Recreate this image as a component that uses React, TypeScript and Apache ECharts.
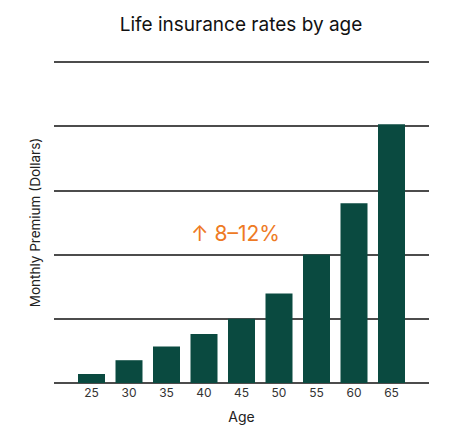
import React, { useEffect, useRef } from "react";
import * as echarts from "echarts";

const ages = [25, 30, 35, 40, 45, 50, 55, 60, 65];
const premiums = [2.8, 7.1, 11.4, 15.3, 20, 27.9, 40, 56, 80.6];
const annotationText = "↑ 8–12%";
const titleText = "Life insurance rates by age";
const yName = "Monthly Premium (Dollars)";
const xName = "Age";

export default function App() {
  const ref = useRef<HTMLDivElement>(null);
  useEffect(() => {
    if (!ref.current) return;
    const chart = echarts.init(ref.current, null, { renderer: "svg" });
    const font = "Inter, 'Noto Sans', sans-serif";
    chart.setOption({
      animation: false,
      textStyle: { fontFamily: font },
      title: {
        text: titleText,
        left: 236,
        textAlign: "center",
        top: 10,
        textStyle: { fontSize: 19, fontWeight: "normal", color: "#111", fontFamily: font },
      },
      grid: { left: 54, right: 45, top: 62, bottom: 53 },
      xAxis: {
        type: "value",
        min: 20,
        max: 70,
        interval: 5,
        name: xName,
        nameLocation: "middle",
        nameGap: 26,
        nameTextStyle: { fontSize: 14, color: "#222", fontFamily: font },
        axisLine: { show: false },
        axisTick: { show: false },
        splitLine: { show: false },
        axisLabel: {
          fontSize: 12,
          color: "#333",
          margin: 3,
          fontFamily: font,
          formatter: (v: number) => (ages.includes(v) ? String(v) : ""),
        },
      },
      yAxis: {
        type: "value",
        min: 0,
        max: 100,
        interval: 20,
        name: yName,
        nameLocation: "middle",
        nameGap: 12,
        nameTextStyle: { fontSize: 13.5, color: "#222", fontFamily: font },
        axisLine: { show: false },
        axisTick: { show: false },
        axisLabel: { show: false },
        splitLine: { show: true, lineStyle: { color: "#111", width: 1.5 } },
      },
      graphic: [
        {
          type: "text",
          left: 191,
          top: 223,
          style: { text: annotationText, fontSize: 21, fill: "#ee7a24", fontFamily: font },
        },
      ],
      series: [
        {
          type: "bar",
          barWidth: 27,
          itemStyle: { color: "#0a4a40" },
          data: ages.map((a, i) => [a, premiums[i]]),
        },
      ],
    });
    return () => chart.dispose();
  }, []);
  return <div ref={ref} style={{ width: 474, height: 436, margin: -8 }} />;
}
